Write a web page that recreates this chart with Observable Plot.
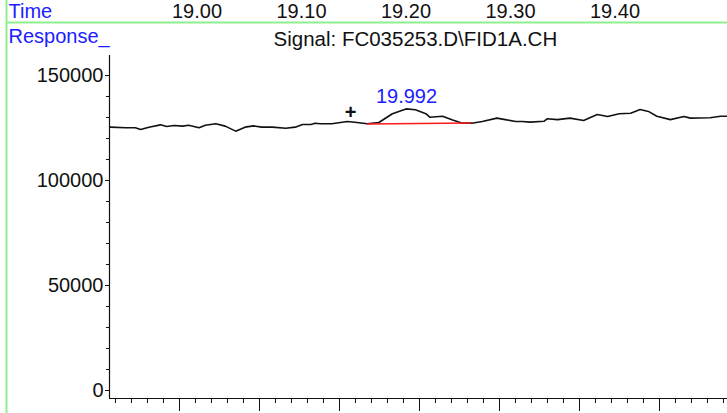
<!DOCTYPE html>
<html><head><meta charset="utf-8">
<script src="https://cdn.jsdelivr.net/npm/d3@7"></script>
<script src="https://cdn.jsdelivr.net/npm/@observablehq/plot@0.6"></script>
<style>html,body{margin:0;padding:0;background:#fff;overflow:hidden} svg{display:block}</style>
</head><body><div id="chart"></div>
<script>
// Retention time (min) and detector response
const time = [18.917,18.932,18.941,18.946,18.954,18.965,18.971,18.978,18.986,18.992,19.002,19.008,19.018,19.027,19.037,19.046,19.054,19.062,19.072,19.085,19.094,19.101,19.109,19.113,19.118,19.129,19.144,19.153,19.163,19.174,19.187,19.200,19.209,19.219,19.223,19.235,19.244,19.254,19.263,19.273,19.287,19.295,19.305,19.311,19.319,19.332,19.335,19.345,19.357,19.370,19.383,19.393,19.404,19.415,19.424,19.432,19.440,19.453,19.466,19.472,19.491,19.501,19.508];
const response = [125400,125100,125100,124300,125400,126500,125700,126200,125900,126300,125100,126300,127000,125900,123500,125400,126000,125400,125400,124900,125400,126700,126700,127300,127000,127000,128100,127600,127000,127600,131800,134100,133700,131800,130100,130600,128900,127300,127300,128100,129700,129000,128100,128100,127800,128200,129400,129000,129700,128600,131400,130500,131800,132000,133800,132900,130600,129000,130500,129700,129900,130600,130600];

// Integration baseline of the labelled peak
const baselineTime = [19.163, 19.262];
const baselineResponse = [126900, 127400];
// Peak annotation
const peakTime = [19.2005];
const peakLabelResponse = [140000];
const peakLabel = ["19.992"];
// "+" marker
const markerTime = [19.147];
const markerResponse = [132400];

// Tick labels
const topTickLabels = [19.00, 19.10, 19.20, 19.30, 19.40];
const yTickValues = [0, 50000, 100000, 150000];
const yMinorTicks = d3.range(0, 160000, 10000);
const bottomTickStart = 18.92201, bottomTickStep = 0.015311, bottomTickCount = 39;
const bottomMinorTicks = d3.range(bottomTickCount).map(i => bottomTickStart + i * bottomTickStep);
const bottomMajorTicks = bottomMinorTicks.filter((d, i) => i % 5 === 4);

const titleTime = "Time";
const titleResponse = "Response_";
const titleSignal = "Signal: FC035253.D\\FID1A.CH";

const xDomain = [18.91627, 19.50766];
const yDomain = [-3810, 159524];

const data = time.map((t, i) => ({time: t, response: response[i]}));
const baseline = baselineTime.map((t, i) => ({time: t, response: baselineResponse[i]}));

const BLUE = "#1c1cff";
const FONT = "'Liberation Sans', Arial, sans-serif";

const chart = Plot.plot({
  width: 727, height: 413,
  marginLeft: 109, marginRight: 0, marginTop: 55, marginBottom: 15,
  style: {fontFamily: FONT, fontSize: "20px", background: "#fff", color: "#111", overflow: "visible"},
  x: {domain: xDomain, axis: null, label: null},
  y: {domain: yDomain, axis: null, label: null},
  marks: [
    // axis lines
    Plot.ruleX([xDomain[0]], {stroke: "#111", strokeWidth: 1.2}),
    Plot.ruleY([yDomain[0]], {stroke: "#111", strokeWidth: 1.2}),
    // y axis ticks + labels
    Plot.axisY({ticks: yMinorTicks, tickSize: 3, fill: "none", label: null, stroke: "#111"}),
    Plot.axisY({ticks: yTickValues, tickSize: 4, tickPadding: 2, tickFormat: d3.format("d"), label: null, stroke: "#111", fill: "#111", fontSize: 20}),
    // bottom x ticks (labels hidden)
    Plot.axisX({ticks: bottomMinorTicks, tickSize: 5, fill: "none", label: null, stroke: "#111"}),
    Plot.axisX({ticks: bottomMajorTicks, tickSize: 13, fill: "none", label: null, stroke: "#111"}),
    // top time labels
    Plot.text(topTickLabels, {x: d => d, frameAnchor: "top", lineAnchor: "middle", dy: -44, text: d => d.toFixed(2), fill: "#111", fontSize: 20}),
    // header texts
    Plot.text([titleTime], {frameAnchor: "top-left", lineAnchor: "middle", textAnchor: "start", dx: -101, dy: -44, fill: BLUE, fontSize: 20}),
    Plot.text([titleResponse], {frameAnchor: "top-left", lineAnchor: "middle", textAnchor: "start", dx: -101, dy: -19, fill: BLUE, fontSize: 20}),
    Plot.text([titleSignal], {frameAnchor: "top-left", lineAnchor: "middle", textAnchor: "start", dx: 164, dy: -16, fill: "#111", fontSize: 20.5}),
    // signal
    Plot.line(data, {x: "time", y: "response", stroke: "#111", strokeWidth: 1.6}),
    // integration baseline
    Plot.line(baseline, {x: "time", y: "response", stroke: "#ff1a1a", strokeWidth: 1.4}),
    // peak label
    Plot.text(peakLabel, {x: () => peakTime[0], y: () => peakLabelResponse[0], text: d => d, fill: BLUE, fontSize: 20}),
    // + marker
    Plot.text(["+"], {x: () => markerTime[0], y: () => markerResponse[0], text: d => d, fill: "#111", fontSize: 20, fontWeight: "bold"})
  ]
});

const svg = d3.select(chart);
svg.append("line").attr("x1", 6.5).attr("x2", 6.5).attr("y1", 0).attr("y2", 413).attr("stroke", "#8fef8f").attr("stroke-width", 2);
svg.append("line").attr("x1", 6).attr("x2", 727).attr("y1", 22.5).attr("y2", 22.5).attr("stroke", "#8fef8f").attr("stroke-width", 2);
document.getElementById("chart").appendChild(chart);
</script>
</body></html>
